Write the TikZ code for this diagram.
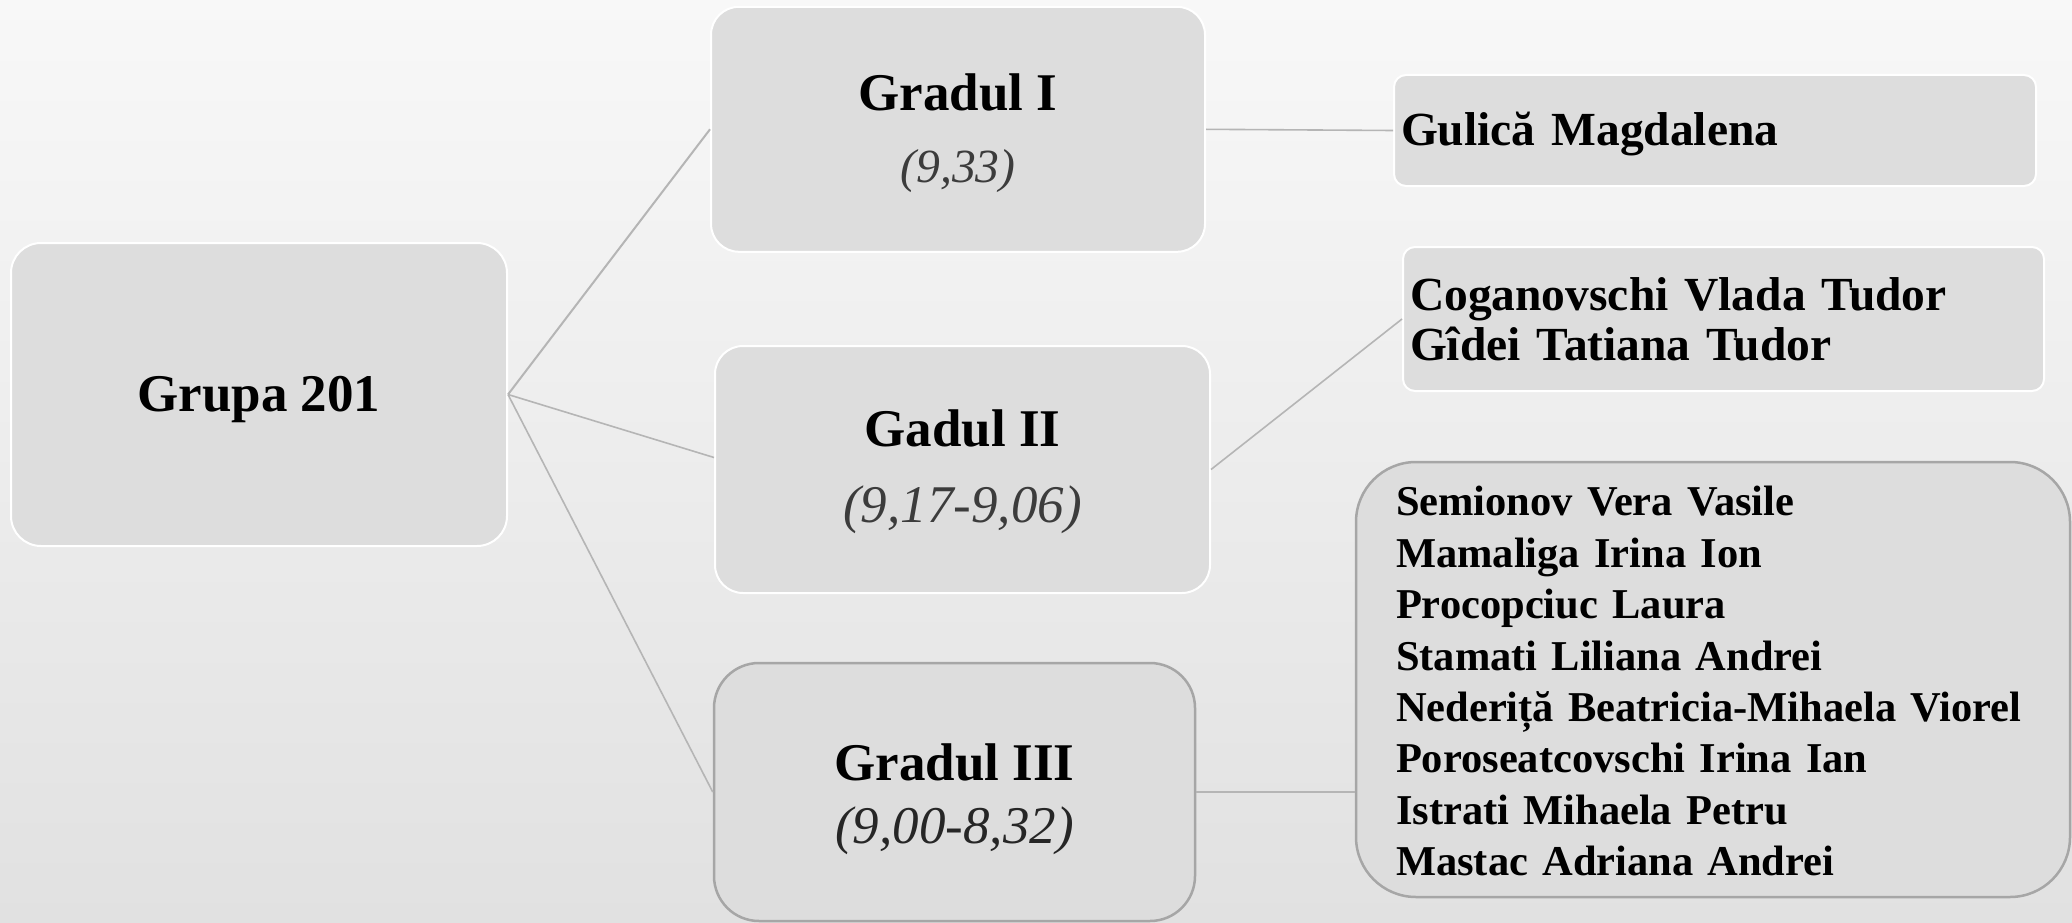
\documentclass[tikz,border=0pt]{standalone}
\usepackage{fontspec}
\setmainfont{Liberation Serif}
\definecolor{boxfill}{HTML}{DDDDDD}
\definecolor{edgegray}{HTML}{B5B5B5}
\definecolor{bordergray}{HTML}{A6A6A6}
\definecolor{bgtop}{HTML}{F8F8F8}
\definecolor{bgbot}{HTML}{E1E1E1}
\definecolor{italgray}{HTML}{3C3C3C}
\newcommand{\topstrut}[1]{\rule{0pt}{#1}}
\tikzset{
  box/.style={draw=white, line width=2pt, fill=boxfill, inner sep=0pt},
  darkbox/.style={draw=bordergray, line width=2.5pt, fill=boxfill, inner sep=0pt},
  link/.style={draw=edgegray, line width=1.6pt},
}
\begin{document}
\begin{tikzpicture}[x=1pt,y=-1pt]
\shade[top color=bgtop,bottom color=bgbot] (0,0) rectangle (2072,923);
\useasboundingbox (0,0) rectangle (2072,923);

\node[box, rounded corners=30pt, minimum width=496pt, minimum height=303pt,
      font=\fontsize{53}{60}\selectfont\bfseries] (grupa) at (259,394.5) {\topstrut{46pt}Grupa 201};

\node[box, rounded corners=28pt, minimum width=494pt, minimum height=245pt, align=center,
      font=\fontsize{53}{72}\selectfont] (g1) at (958,129.3)
  {\topstrut{44pt}\textbf{Gradul I}\\{\fontsize{47.6}{47.6}\selectfont\itshape\color{italgray}(9,33)}};

\node[box, rounded corners=28pt, minimum width=495pt, minimum height=247pt, align=center,
      font=\fontsize{53}{76}\selectfont] (g2) at (962.5,469.5)
  {\topstrut{42pt}\textbf{Gadul II}\\{\itshape\color{italgray}(9,17-9,06)}};

\node[darkbox, rounded corners=45pt, minimum width=481pt, minimum height=258pt, align=center,
      font=\fontsize{53}{63}\selectfont] (g3) at (954.5,792)
  {\topstrut{52pt}\textbf{Gradul III}\\{\itshape\color{black!85}(9,00-8,32)}};

\node[box, rounded corners=12pt, inner xsep=7pt, text width=628pt, minimum height=111pt, align=left,
      font=\fontsize{47.5}{50}\selectfont\bfseries] (gul) at (1715,130.5) {\topstrut{40.5pt}Gulică Magdalena};

\node[box, rounded corners=12pt, inner xsep=7pt, text width=627pt, minimum height=144pt, align=left,
      font=\fontsize{47.5}{50}\selectfont\bfseries] (cog) at (1723.5,319)
  {Coganovschi Vlada Tudor\\Gîdei Tatiana Tudor};

\node[darkbox, rounded corners=60pt, inner xsep=40pt, text width=634pt, minimum height=435pt, align=left,
      font=\fontsize{42.5}{51.4}\selectfont\bfseries] (sem) at (1713,679.5)
  {\topstrut{33pt}Semionov Vera Vasile\\Mamaliga Irina Ion\\Procopciuc Laura\\Stamati Liliana Andrei\\Nederiță Beatricia-Mihaela Viorel\\Poroseatcovschi Irina Ian\\Istrati Mihaela Petru\\Mastac Adriana Andrei};

\draw[link, line width=2pt] (grupa.east) -- (g1.west);
\draw[link] (grupa.east) -- ([yshift=12pt]g2.west);
\draw[link] (grupa.east) -- (g3.west);
\draw[link] (g1.east) -- (gul.west);
\draw[link] (g2.east) -- (cog.west);
\draw[link] (g3.east) -- (sem.west |- g3.east);
\end{tikzpicture}
\end{document}
